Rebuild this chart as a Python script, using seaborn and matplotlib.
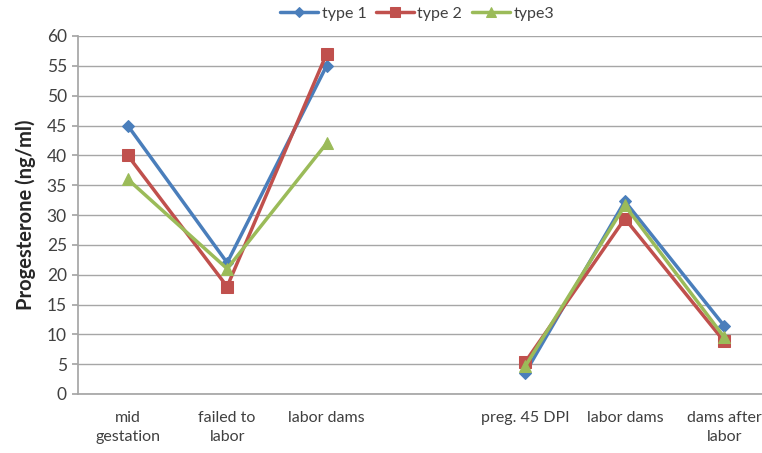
import matplotlib
matplotlib.use("Agg")
import matplotlib.pyplot as plt
import seaborn as sns
import numpy as np
import pandas as pd

categories = ["mid\ngestation", "failed to\nlabor", "labor dams", "",
              "preg. 45 DPI", "labor dams", "dams after\nlabor"]
type1 = [45, 22, 55, np.nan, 3.6, 32.3, 11.4]
type2 = [40, 18, 57, np.nan, 5.4, 29.4, 8.8]
type3 = [36, 21, 42, np.nan, 4.7, 31.6, 9.5]
series_names = ["type 1", "type 2", "type3"]
y_ticks = list(range(0, 61, 5))

sns.set_theme(style="white")
plt.rcParams['font.family'] = ['Lato', 'DejaVu Sans']

rows = []
for name, vals in zip(series_names, [type1, type2, type3]):
    seg = 0
    for i, v in enumerate(vals):
        if np.isnan(v):
            seg += 1
            continue
        rows.append({"pos": i, "value": v, "series": name, "segment": seg})
df = pd.DataFrame(rows)

fig = plt.figure(figsize=(7.62, 4.53), dpi=100)
ax = fig.add_axes([78/762, 1 - 394/453, 696/762, (394-36)/453])

colors = ["#4A7EBB", "#C0504D", "#9BBB59"]
markers = ["D", "s", "^"]
msizes = [6, 9, 9]
for name, c, m, ms in zip(series_names, colors, markers, msizes):
    sub = df[df["series"] == name]
    for k, (seg, part) in enumerate(sub.groupby("segment")):
        sns.lineplot(data=part, x="pos", y="value", ax=ax, color=c, marker=m,
                     markersize=ms, markeredgecolor=c, linewidth=2.5,
                     label=name if k == 0 else None,
                     sort=False, estimator=None)

ax.set_xlim(-0.5, 6.5)
ax.set_ylim(0, 60)
ax.set_yticks(y_ticks)
ax.set_yticklabels([str(t) for t in y_ticks], fontsize=12.5, color="#404040")
ax.yaxis.grid(True, color="#A6A6A6", linewidth=1)
ax.set_axisbelow(True)

ax.set_xticks(np.arange(-0.5, 6.5, 1))
ax.set_xticklabels([])
ax.tick_params(axis="x", which="major", length=5, color="#A6A6A6", direction="out")
ax.set_xticks(np.arange(0, 7), minor=True)
ax.set_xticklabels(categories, minor=True, fontsize=11.5, color="#404040",
                   linespacing=1.45)
ax.tick_params(axis="x", which="minor", length=0, pad=12)
ax.tick_params(axis="y", length=4, color="#A6A6A6", direction="out", pad=4, left=True)

for s in ["top", "right"]:
    ax.spines[s].set_visible(False)
ax.spines["left"].set_color("#A6A6A6")
ax.spines["bottom"].set_color("#A6A6A6")

ax.set_xlabel("")
ax.set_ylabel("Progesterone (ng/ml)", fontsize=14.5, fontweight="bold", color="#262626", labelpad=8)

leg = ax.legend(loc="center", bbox_to_anchor=((417-78)/696, 1 + (36-14)/358), ncol=3, frameon=False,
                fontsize=11.5, handlelength=2.4, columnspacing=0.6, handletextpad=0.2,
                markerscale=0.8)
for t in leg.get_texts():
    t.set_color("#404040")

fig.savefig("out.png", dpi=100)
